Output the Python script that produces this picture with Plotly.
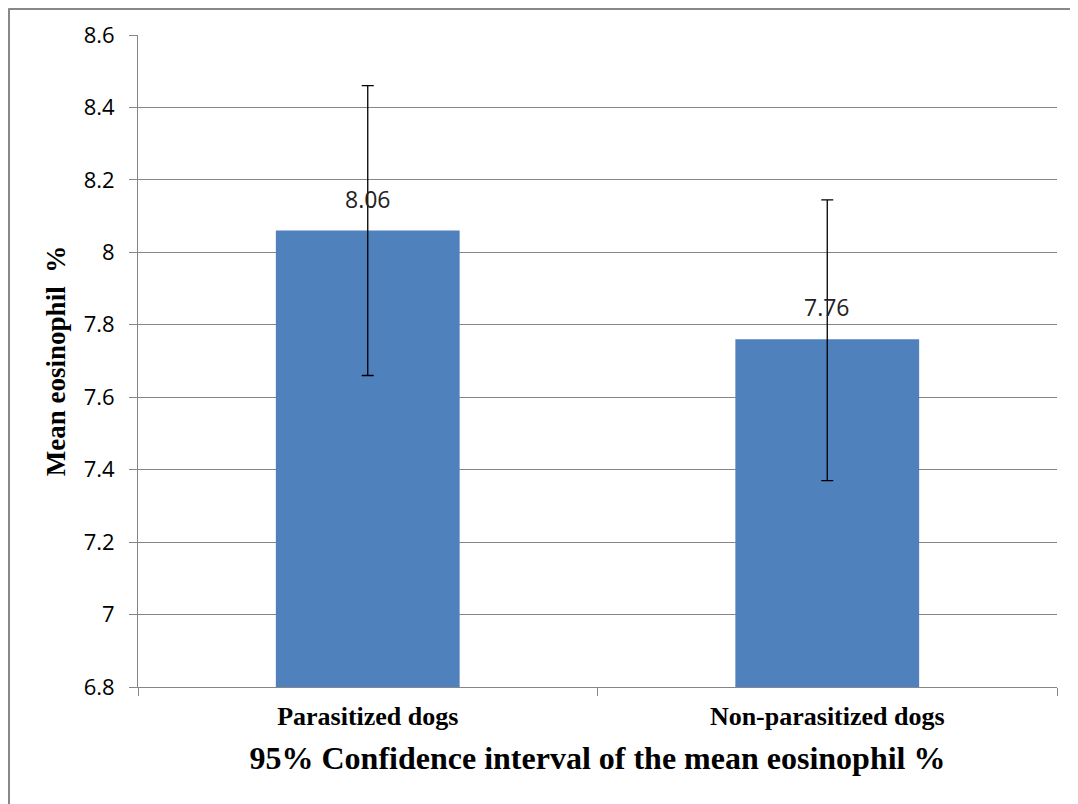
import plotly.graph_objects as go

categories = ["Parasitized dogs", "Non-parasitized dogs"]
means = [8.06, 7.76]
ci_plus = [0.40, 0.385]
ci_minus = [0.40, 0.39]
tick_vals = [6.8, 7.0, 7.2, 7.4, 7.6, 7.8, 8.0, 8.2, 8.4, 8.6]
tick_text = ["6.8", "7", "7.2", "7.4", "7.6", "7.8", "8", "8.2", "8.4", "8.6"]
label_text = [f"{v:.2f}" for v in means]

fig = go.Figure()
fig.add_trace(go.Bar(
    x=categories, y=means, width=0.4,
    marker=dict(color="#4F81BD", line=dict(width=0)),
    error_y=dict(type="data", symmetric=False, array=ci_plus, arrayminus=ci_minus,
                 color="black", thickness=1.3, width=6),
    cliponaxis=False,
))

annotations = [
    dict(x=c, y=m, text=t, showarrow=False, yanchor="bottom", yshift=14,
         font=dict(family="Open Sans, Liberation Sans, sans-serif", size=23, color="#222"))
    for c, m, t in zip(categories, means, label_text)
]

fig.update_layout(
    width=1070, height=796,
    margin=dict(l=130, r=21, t=27, b=117),
    paper_bgcolor="white", plot_bgcolor="white",
    showlegend=False,
    annotations=annotations,
    xaxis=dict(
        showline=True, linecolor="#868686", linewidth=1,
        ticks="outside", tickson="boundaries", ticklen=8, tickcolor="#868686",
        ticklabelstandoff=6,
        tickfont=dict(family="Liberation Serif", size=26, color="black"),
        title=dict(text="<b>95% Confidence interval of the mean eosinophil %</b>",
                   font=dict(family="Liberation Serif", size=32, color="black"), standoff=16),
        tickprefix="<b>", ticksuffix="</b>",
    ),
    yaxis=dict(
        range=[6.8, 8.6], tickvals=tick_vals, ticktext=tick_text,
        showgrid=True, gridcolor="#868686", gridwidth=1,
        showline=True, linecolor="#868686", linewidth=1,
        ticks="outside", ticklen=8, tickcolor="#868686",
        ticklabelstandoff=10,
        tickfont=dict(family="Open Sans, Liberation Sans, sans-serif", size=22, color="black"),
        title=dict(text="<b>Mean eosinophil  %</b>",
                   font=dict(family="Liberation Serif", size=27, color="black"), standoff=10),
        zeroline=False,
    ),
    shapes=[
        dict(type="line", xref="paper", yref="paper", x0=-0.1409, x1=1.03, y0=1.0406, y1=1.0406,
             line=dict(color="#888888", width=3)),
        dict(type="line", xref="paper", yref="paper", x0=-0.1409, x1=-0.1409, y0=1.0406, y1=-0.2,
             line=dict(color="#888888", width=3)),
    ],
)

fig.write_html("out.html")
